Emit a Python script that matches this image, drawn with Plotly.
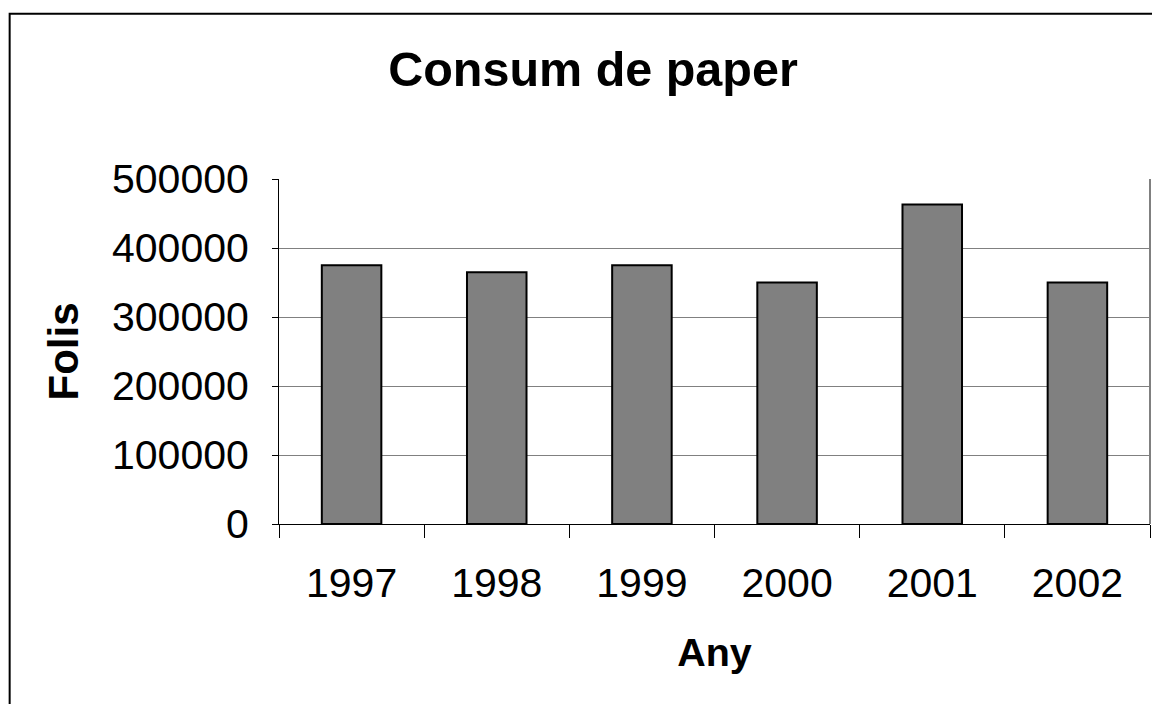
import plotly.graph_objects as go

years = ["1997", "1998", "1999", "2000", "2001", "2002"]
folis = [375000, 365000, 375000, 350000, 463000, 350000]
y_ticks = [0, 100000, 200000, 300000, 400000, 500000]

W, H = 1160, 704
L, R, T, B = 270.5, 18, 170.5, 188
pw, ph = W - L - R, H - T - B

fig = go.Figure(go.Bar(
    x=years, y=folis,
    marker=dict(color="#808080", line=dict(color="#000000", width=2)),
    width=0.41,
))

font = "Liberation Sans, Arial, sans-serif"

fig.update_layout(
    width=W, height=H,
    margin=dict(l=L, r=R, t=T, b=B, autoexpand=False),
    paper_bgcolor="white", plot_bgcolor="white",
    showlegend=False,
    font=dict(family=font, color="black"),
    title=dict(text="<b>Consum de paper</b>", font=dict(size=48.5, family=font, color="black"),
               x=585 / W, xanchor="center", xref="container",
               y=1 - 61 / H, yanchor="middle", yref="container"),
    xaxis=dict(
        type="category", range=[-0.5, 5.5],
        showline=True, linecolor="black", linewidth=1,
        ticks="outside", ticklen=13, tickcolor="black", tickwidth=1,
        tickson="boundaries",
        tickfont=dict(size=41, family=font, color="black"),
        ticklabelstandoff=23,
        showgrid=False, zeroline=False,
        title=dict(text="<b>Any</b>", font=dict(size=39.5, family=font, color="black"), standoff=33),
        automargin=False,
    ),
    yaxis=dict(
        range=[0, 500000],
        tickvals=y_ticks, ticktext=[str(v) for v in y_ticks],
        showline=True, linecolor="black", linewidth=1,
        ticks="outside", ticklen=6, tickcolor="black", tickwidth=1,
        tickfont=dict(size=41, family=font, color="black"),
        ticklabelstandoff=15,
        showgrid=True, gridcolor="#808080", gridwidth=1,
        zeroline=False,
        title=dict(text="<b>Folis</b>", font=dict(size=42, family=font, color="black"), standoff=20),
        automargin=False,
    ),
    bargap=0.59,
)

# plot-area right border (gray)
fig.add_shape(type="line", xref="paper", yref="paper", x0=1, x1=1, y0=0, y1=1,
              line=dict(color="#808080", width=2))

# outer chart border
fig.add_shape(type="rect", xref="paper", yref="paper",
              x0=(1 - L) / pw, x1=(W + 20 - L) / pw,
              y0=(-20 - B) / ph, y1=(H - 5 - B) / ph,
              line=dict(color="black", width=2), fillcolor="rgba(0,0,0,0)", layer="below")

fig.write_html("out.html")
